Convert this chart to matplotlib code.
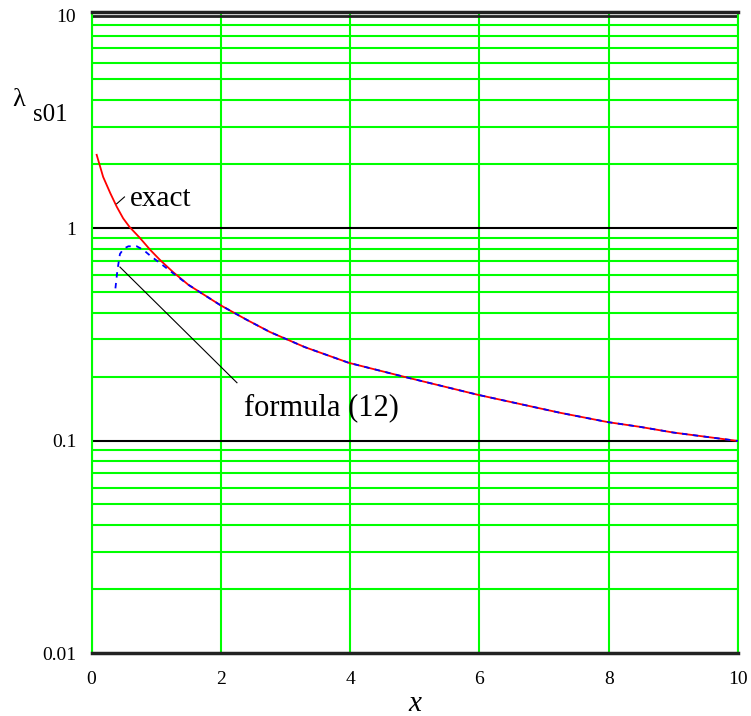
import matplotlib
matplotlib.use("Agg")
import matplotlib.pyplot as plt

# exact curve (red)
x_exact = [0.08, 0.18, 0.29, 0.39, 0.49, 0.59, 0.75, 0.91, 1.06, 1.26, 1.5, 1.99, 2.4, 2.76, 3.3, 3.98, 4.82, 5.98, 7.25, 7.99, 8.48, 9.0, 10.0]
y_exact = [2.21, 1.74, 1.46, 1.26, 1.11, 1.01, 0.897, 0.788, 0.707, 0.621, 0.54, 0.434, 0.37, 0.324, 0.275, 0.232, 0.20, 0.164, 0.135, 0.122, 0.116, 0.109, 0.0995]

# formula (12) (blue dashed)
x_form = [0.37, 0.40, 0.44, 0.50, 0.57, 0.70, 0.80, 0.91, 1.07, 1.30, 1.5, 1.99, 2.4, 2.76, 3.3, 3.98, 4.82, 5.98, 7.25, 7.99, 8.48, 9.0, 10.0]
y_form = [0.52, 0.63, 0.755, 0.80, 0.82, 0.82, 0.79, 0.74, 0.68, 0.600, 0.54, 0.434, 0.37, 0.324, 0.275, 0.232, 0.20, 0.164, 0.135, 0.122, 0.116, 0.109, 0.0995]

xticks = [0, 2, 4, 6, 8, 10]
yticks = [0.01, 0.1, 1, 10]
ytick_labels = ["0.01", "0.1", "1", "10"]

serif = ["Liberation Serif", "DejaVu Serif"]
green = "#00ff00"

W, H = 751, 716
fig = plt.figure(figsize=(W / 100, H / 100), dpi=100)
L, R, T, B = 91.5, 738, 12.0, 653
decade_px = 212.5
ax = fig.add_axes([L / W, (H - B) / H, (R - L) / W, (B - T) / H])
ax.set_xlim(0, 10)
ax.set_yscale("log")
ax.set_ylim(0.01, 10 * 10 ** (3.5 / decade_px))

# grid
for xv in xticks:
    ax.axvline(xv, color=green, lw=1.5, zorder=1)
for dec in [0.01, 0.1, 1]:
    for m in range(2, 10):
        ax.axhline(dec * m, color=green, lw=1.5, zorder=1)
for yv in [0.1, 1]:
    ax.axhline(yv, color="black", lw=1.5, zorder=2)
ax.axhline(10, color="#222222", lw=2, zorder=2)

ax.plot(x_exact, y_exact, color="red", lw=1.3, zorder=3)
ax.plot(x_form, y_form, color="blue", lw=1.3, ls=(0, (3, 3)), zorder=4)

for s in ["left", "right"]:
    ax.spines[s].set_color(green)
    ax.spines[s].set_linewidth(1.5)
for s in ["top", "bottom"]:
    ax.spines[s].set_color("#222222")
    ax.spines[s].set_linewidth(2.5)

ax.set_xticks(xticks)
ax.set_xticklabels([str(v) for v in xticks], family=serif, fontsize=14)
ax.set_yticks(yticks)
ax.set_yticklabels(ytick_labels, family=serif, fontsize=14)
ax.yaxis.set_minor_locator(matplotlib.ticker.NullLocator())
ax.tick_params(axis="y", length=0, pad=11)
ax.tick_params(axis="x", length=0, pad=13)

ax.set_xlabel("x", family=serif, style="italic", fontsize=21, labelpad=2)

fig.text(12 / W, 1 - 100 / H, "λ", family=serif, fontsize=19, ha="left", va="center")
fig.text(33 / W, 1 - 115 / H, "s01", family=serif, fontsize=18, ha="left", va="center")

# annotations
ax.plot([0.39, 0.51], [1.30, 1.40], color="black", lw=0.8, zorder=5)
ax.text(0.60, 1.37, "exact", family=serif, fontsize=21, ha="left", va="center", zorder=5)
ax.plot([0.44, 2.25], [0.655, 0.187], color="black", lw=0.8, zorder=5)
ax.text(2.36, 0.142, "formula (12)", family=serif, fontsize=22, ha="left", va="center", zorder=5)

fig.savefig("out.png", dpi=100)
